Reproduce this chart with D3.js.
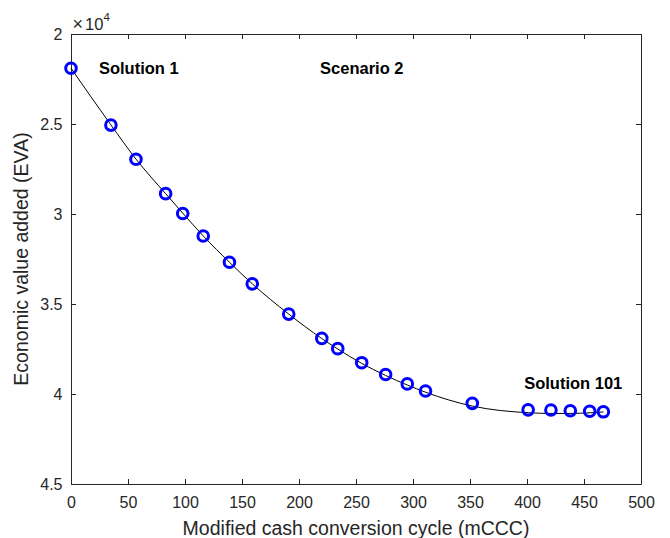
<!DOCTYPE html>
<html>
<head>
<meta charset="utf-8">
<script src="https://cdn.jsdelivr.net/npm/d3@7"></script>
<style>
	body { margin: 0; background: #fff; }
	svg { display: block; font-family: 'Liberation Sans', Arial, sans-serif; }
	.tick text { fill: #262626; font-size: 16px; }
</style>
</head>
<body>
<svg id="chart" width="670" height="538"></svg>
<script>
;(() => {
	'use strict';

	// solutions of scenario 2
	const mccc = [0, 35, 57, 83, 98, 116, 139, 159, 191, 220, 234, 255, 276, 295, 311, 352, 401, 421, 438, 455, 467],
		eva = [21900, 25060, 26960, 28870, 29970, 31220, 32680, 33880, 35560, 36910, 37480, 38260, 38920, 39440, 39830, 40520, 40880, 40890, 40930, 40960, 40990];

	// fitted trend line, sampled along the curve
	const fitMccc = [0, 35, 57, 83, 98, 116, 139, 159, 191, 220, 234, 255, 276, 295, 311, 352, 401, 421, 438, 456, 467],
		fitEva = [21900, 25050, 26950, 28870, 29950, 31220, 32680, 33880, 35560, 36920, 37500, 38300, 38970, 39500, 39900, 40670, 41040, 41080, 41080, 41040, 41000];

	const xTicks = [0, 50, 100, 150, 200, 250, 300, 350, 400, 450, 500],
		yTicks = [20000, 25000, 30000, 35000, 40000, 45000];

	const labels = [
		{text: 'Solution 1', x: 24.5, y: 21880},
		{text: 'Scenario 2', x: 218.5, y: 21880},
		{text: 'Solution 101', x: 397.5, y: 39410}
	];

	const margin = {left: 71, top: 34, right: 29, bottom: 54},
		width = 670 - margin.left - margin.right,
		height = 538 - margin.top - margin.bottom,
		axisColor = '#262626';

	const x = d3.scaleLinear().domain([0, 500]).range([0, width]),
		y = d3.scaleLinear().domain([20000, 45000]).range([0, height]);

	const svg = d3.select('#chart'),
		g = svg.append('g').attr('transform', `translate(${margin.left},${margin.top})`);

	// axes with inward ticks on every side
	const fmtY = (d) => d3.format('~g')(d / 10000);

	const styleAxis = function(sel) {
		sel.select('.domain').attr('stroke', axisColor).attr('stroke-width', 1);
		sel.selectAll('.tick line').attr('stroke', axisColor);
	};

	g.append('g')
		.attr('transform', `translate(0,${height})`)
		.call(d3.axisBottom(x).tickValues(xTicks).tickSizeInner(-5).tickSizeOuter(0).tickPadding(13))
		.call(styleAxis);

	g.append('g')
		.call(d3.axisTop(x).tickValues(xTicks).tickSizeInner(-5).tickSizeOuter(0).tickFormat(''))
		.call(styleAxis);

	g.append('g')
		.call(d3.axisLeft(y).tickValues(yTicks).tickFormat(fmtY).tickSizeInner(-5).tickSizeOuter(0).tickPadding(8.5))
		.call(styleAxis);

	g.append('g')
		.attr('transform', `translate(${width},0)`)
		.call(d3.axisRight(y).tickValues(yTicks).tickSizeInner(-5).tickSizeOuter(0).tickFormat(''))
		.call(styleAxis);

	svg.selectAll('.tick text').style('font-family', "'Liberation Sans', Arial, sans-serif");

	// exponent label
	const expo = svg.append('text')
		.attr('x', margin.left + 1.5)
		.attr('y', 30)
		.attr('fill', axisColor)
		.style('font-size', '16.5px');
	expo.append('tspan').style('font-size', '18px').text('\u00d7');
	expo.append('tspan').attr('dx', 2).text('10');
	expo.append('tspan').attr('dy', -9).style('font-size', '11.5px').text('4');

	// trend line
	const fitData = fitMccc.map((d, i) => ({x: d, y: fitEva[i]}));
	g.append('path')
		.datum(fitData)
		.attr('fill', 'none')
		.attr('stroke', '#000')
		.attr('stroke-width', 1)
		.attr('d', d3.line().x(d => x(d.x)).y(d => y(d.y)).curve(d3.curveMonotoneX));

	// solution markers
	g.selectAll('.solution')
		.data(mccc.map((d, i) => ({x: d, y: eva[i]})))
		.enter()
		.append('circle')
		.attr('class', 'solution')
		.attr('cx', d => x(d.x))
		.attr('cy', d => y(d.y))
		.attr('r', 5.3)
		.attr('fill', 'none')
		.attr('stroke', '#0000ff')
		.attr('stroke-width', 3);

	// annotations
	g.selectAll('.note')
		.data(labels)
		.enter()
		.append('text')
		.attr('class', 'note')
		.attr('x', d => x(d.x))
		.attr('y', d => y(d.y))
		.attr('dy', '0.35em')
		.attr('fill', '#000')
		.style('font-size', '16.5px')
		.style('font-weight', 'bold')
		.text(d => d.text);

	// axis titles
	svg.append('text')
		.attr('x', margin.left + width / 2)
		.attr('y', 535)
		.attr('text-anchor', 'middle')
		.attr('fill', axisColor)
		.style('font-size', '19.5px')
		.text('Modified cash conversion cycle (mCCC)');

	svg.append('text')
		.attr('transform', `translate(28,${margin.top + height / 2}) rotate(-90)`)
		.attr('text-anchor', 'middle')
		.attr('fill', axisColor)
		.style('font-size', '19.5px')
		.text('Economic value added (EVA)');
})();
</script>
</body>
</html>
